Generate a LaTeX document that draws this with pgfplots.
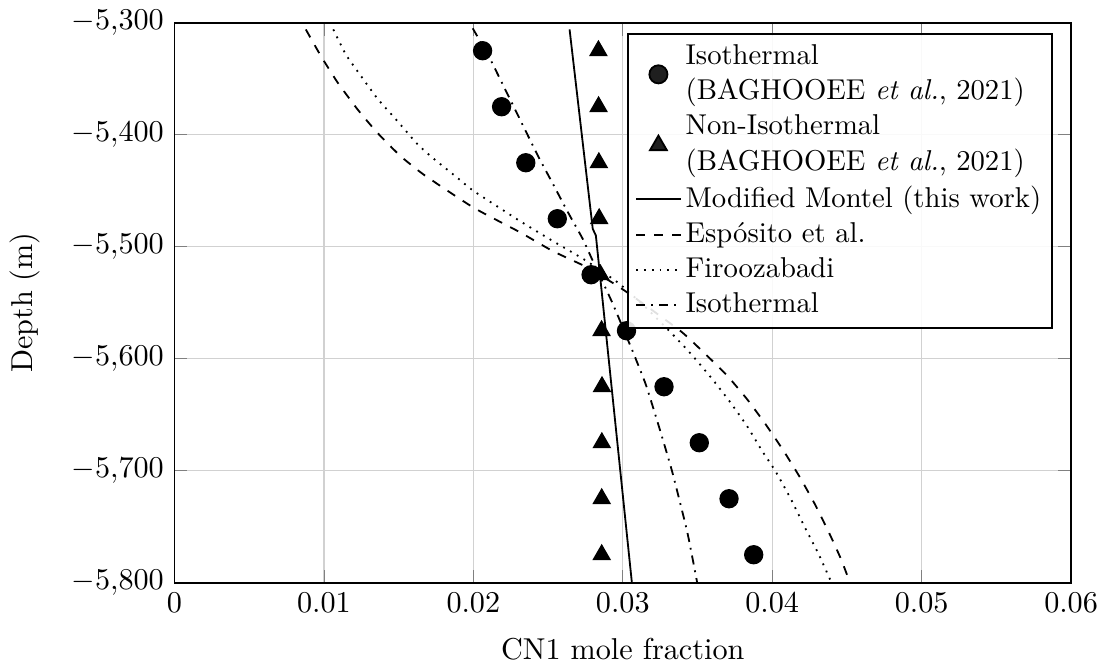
\documentclass[border=0pt]{standalone}
\usepackage{pgfplots}
\pgfplotsset{compat=1.18}
\begin{document}
\begin{tikzpicture}
\begin{axis}[
  scale only axis,
  width=297pt, height=185.5pt,
  xmin=0, xmax=0.06, ymin=-5800, ymax=-5300,
  xtick={0,0.01,0.02,0.03,0.04,0.05,0.06},
  ytick={-5800,-5700,-5600,-5500,-5400,-5300},
  scaled x ticks=false,
  xticklabel style={/pgf/number format/fixed,/pgf/number format/precision=2},
  grid=major,
  major grid style={black!18},
  axis line style={semithick},
  xlabel={CN1 mole fraction},
  ylabel={Depth (m)},
  xlabel style={yshift=-1.5pt},
  ylabel style={at={(ticklabel cs:0.5,3.5pt)}},
  legend cell align=left,
  legend style={at={(rel axis cs:1,1)}, anchor=north east, xshift=-6pt, yshift=-3.3pt,
    font=\fontsize{9.5pt}{11.9pt}\selectfont,
    cells={align=left}, nodes={inner sep=1.3pt}, row sep=0.9pt,
    inner xsep=2.3pt, inner ysep=2.2pt,
    fill opacity=0.88, draw opacity=1, text opacity=1, draw=black, semithick},
  legend image code/.code={\draw[mark repeat=2,mark phase=2,#1] plot coordinates {(0cm,0cm) (0.26cm,0cm) (0.52cm,0cm)};},
]
\addplot[only marks, mark=*, mark size=3pt, black] coordinates {
(0.02062,-5325) (0.02189,-5375) (0.02351,-5425) (0.02562,-5475) (0.02788,-5525)
(0.03025,-5575) (0.03276,-5625) (0.03512,-5675) (0.03711,-5725) (0.03876,-5775)};
\addlegendentry{Isothermal\\(BAGHOOEE \textit{et al.}, 2021)}
\addplot[only marks, mark=triangle*, mark size=3.2pt, black] coordinates {
(0.02837,-5325) (0.02838,-5375) (0.02840,-5425) (0.02842,-5475) (0.02850,-5525)
(0.02858,-5575) (0.02861,-5625) (0.02860,-5675) (0.02859,-5725) (0.02859,-5775)};
\addlegendentry{Non-Isothermal\\(BAGHOOEE \textit{et al.}, 2021)}
\addplot[semithick, black, mark=none] coordinates {
(0.02644,-5306) (0.02799,-5484) (0.0282,-5490) (0.03061,-5800)};
\addlegendentry{Modified Montel (this work)}
\addplot[semithick, black, mark=none, dashed, smooth, tension=0.3] coordinates {
(0.00879,-5306) (0.00979,-5329.5) (0.0109,-5353) (0.01223,-5377) (0.01356,-5398)
(0.01512,-5419) (0.01672,-5436) (0.0200,-5465) (0.02311,-5487) (0.02533,-5504)
(0.02755,-5518) (0.02977,-5536) (0.0318,-5555) (0.03398,-5576.5) (0.03554,-5596)
(0.03698,-5615) (0.03831,-5636) (0.03953,-5658) (0.04075,-5682) (0.04186,-5706)
(0.04286,-5730) (0.04386,-5757) (0.04464,-5780) (0.0452,-5800)};
\addlegendentry{Esp\'osito et al.}
\addplot[semithick, black, mark=none, dotted, smooth, tension=0.3] coordinates {
(0.01063,-5306) (0.01145,-5328) (0.01245,-5347) (0.0136,-5368) (0.0149,-5387.5)
(0.01623,-5408) (0.01722,-5420) (0.01889,-5438) (0.0200,-5450) (0.02311,-5477)
(0.02533,-5495) (0.02755,-5512.5) (0.02977,-5533) (0.0316,-5555) (0.03332,-5578)
(0.03465,-5597) (0.03598,-5618) (0.0372,-5639) (0.03831,-5660) (0.03931,-5682)
(0.0402,-5700) (0.0412,-5724) (0.0422,-5751) (0.04309,-5774) (0.04397,-5800)};
\addlegendentry{Firoozabadi}
\addplot[semithick, black, mark=none, dash dot, smooth, tension=0.3] coordinates {
(0.01996,-5305) (0.02111,-5332) (0.022,-5356) (0.02333,-5392) (0.02433,-5419)
(0.02533,-5444) (0.02632,-5469) (0.02732,-5493) (0.02799,-5512.5) (0.0293,-5550)
(0.03065,-5593) (0.03154,-5623) (0.03243,-5661) (0.03332,-5701.5) (0.03432,-5755)
(0.03498,-5800)};
\addlegendentry{Isothermal}
\end{axis}
\end{tikzpicture}
\end{document}
